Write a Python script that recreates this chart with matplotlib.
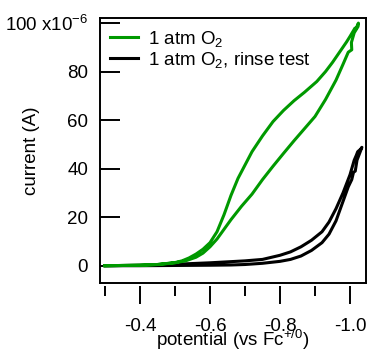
import matplotlib
matplotlib.use("Agg")
from matplotlib import pyplot as plt

plt.rcParams['font.family'] = ['Liberation Sans', 'DejaVu Sans']
plt.rcParams['mathtext.fontset'] = 'custom'
plt.rcParams['mathtext.rm'] = 'Liberation Sans'
plt.rcParams['mathtext.it'] = 'Liberation Sans:italic'

# current in units of 1e-6 A, potential in V vs Fc+/0
# 1 atm O2 : outgoing scan (lower branch) then return (upper branch)
green_out_x = [-0.30, -0.40, -0.45, -0.50, -0.53, -0.56, -0.58, -0.60, -0.62, -0.64,
               -0.66, -0.69, -0.72, -0.75, -0.78, -0.81, -0.84, -0.87, -0.90, -0.93,
               -0.96, -0.98, -0.995, -1.000, -1.005, -1.004, -1.012, -1.023]
green_out_y = [0.0, 0.2, 0.5, 1.2, 2.0, 3.5, 5.2, 7.8, 11.0, 15.0,
               19.0, 24.5, 29.5, 35.5, 41.0, 46.3, 51.5, 56.5, 61.5, 68.5,
               76.5, 83.0, 88.0, 88.5, 89.0, 92.0, 96.0, 98.6]
green_back_x = [-1.024, -1.018, -1.014, -1.000, -0.990, -0.970, -0.950, -0.930, -0.905, -0.870,
                -0.840, -0.810, -0.780, -0.750, -0.720, -0.700, -0.680, -0.660, -0.640, -0.620,
                -0.600, -0.580, -0.560, -0.540, -0.520, -0.500, -0.450, -0.400, -0.300]
green_back_y = [100.0, 98.0, 97.9, 94.5, 92.2, 88.0, 83.8, 80.0, 75.9, 71.5,
                68.0, 64.0, 59.4, 53.5, 47.0, 41.5, 36.0, 29.0, 21.0, 14.0,
                9.5, 6.8, 4.8, 3.2, 2.0, 1.3, 0.5, 0.2, 0.0]

# 1 atm O2, rinse test
black_out_x = [-0.30, -0.40, -0.50, -0.60, -0.66, -0.70, -0.75, -0.80, -0.83, -0.86,
               -0.89, -0.92, -0.94, -0.96, -0.98, -0.995, -1.005, -1.010, -1.015, -1.020]
black_out_y = [0.0, 0.0, 0.1, 0.2, 0.3, 0.5, 1.0, 1.8, 2.6, 4.0,
               6.3, 9.5, 13.0, 18.5, 26.5, 32.5, 35.5, 38.5, 39.0, 43.5]
black_back_x = [-1.034, -1.030, -1.022, -1.018, -1.012, -1.006, -1.000, -0.980, -0.960, -0.940,
                -0.920, -0.890, -0.860, -0.830, -0.800, -0.750, -0.700, -0.650, -0.600, -0.500,
                -0.400, -0.300]
black_back_y = [48.8, 48.0, 47.0, 45.5, 43.5, 40.5, 37.5, 30.0, 23.5, 18.0,
                14.0, 10.5, 7.8, 5.7, 4.3, 2.6, 2.0, 1.6, 1.2, 0.6,
                0.2, 0.0]

labels = ["1 atm O$_2$", "1 atm O$_2$, rinse test"]
colors = ["#009900", "black"]

y_ticks = [0, 20, 40, 60, 80, 100]
y_ticklabels = ["0", "20", "40", "60", "80", "100 x10$^{-6}$"]
x_major = [-0.4, -0.6, -0.8, -1.0]
x_minor = [-0.3, -0.5, -0.7, -0.9]
x_ticklabels = ["-0.4", "-0.6", "-0.8", "-1.0"]

fs = 13.5

fig = plt.figure(figsize=(3.70, 3.52), dpi=100)
ax = fig.add_axes([100/370, 1-282.7/352, 266/370, 264.7/352])

ax.plot(green_out_x + green_back_x, green_out_y + green_back_y,
        color=colors[0], lw=2.2, label=labels[0], zorder=3)
ax.plot(black_out_x + black_back_x, black_out_y + black_back_y,
        color=colors[1], lw=2.2, label=labels[1], zorder=2)

ax.set_xlim(-0.2857, -1.0457)
ax.set_ylim(-7.0, 102.1)

for s in ax.spines.values():
    s.set_linewidth(1.4)

ax.set_yticks(y_ticks)
ax.set_yticklabels(y_ticklabels)
ax.tick_params(axis='y', direction='in', length=14.4, width=1.4, pad=8.5,
               labelsize=fs, right=False)
ax.tick_params(axis='x', which='both', bottom=False, top=False, labelbottom=False)
ax.set_ylabel("current (A)", fontsize=fs)
ax.yaxis.set_label_coords(-60/266, 0.5)

# x ticks sit a little below the frame
sec = ax.secondary_xaxis(-3/264.7)
sec.spines['bottom'].set_visible(False)
sec.set_xticks(x_major)
sec.set_xticklabels(x_ticklabels)
sec.set_xticks(x_minor, minor=True)
sec.tick_params(axis='x', which='major', direction='out', length=13, width=1.4,
                pad=10, labelsize=fs)
sec.tick_params(axis='x', which='minor', direction='out', length=7.2, width=1.4)
sec.set_xlabel("potential (vs Fc$^{+/0}$)", fontsize=fs, labelpad=-4.8)

ax.legend(loc='upper left', bbox_to_anchor=(10/266, 1-11/264.7), frameon=False,
          fontsize=fs, handlelength=1.5, handletextpad=0.5, labelspacing=0.05,
          borderpad=0, borderaxespad=0)

fig.savefig("out.png", dpi=100)
